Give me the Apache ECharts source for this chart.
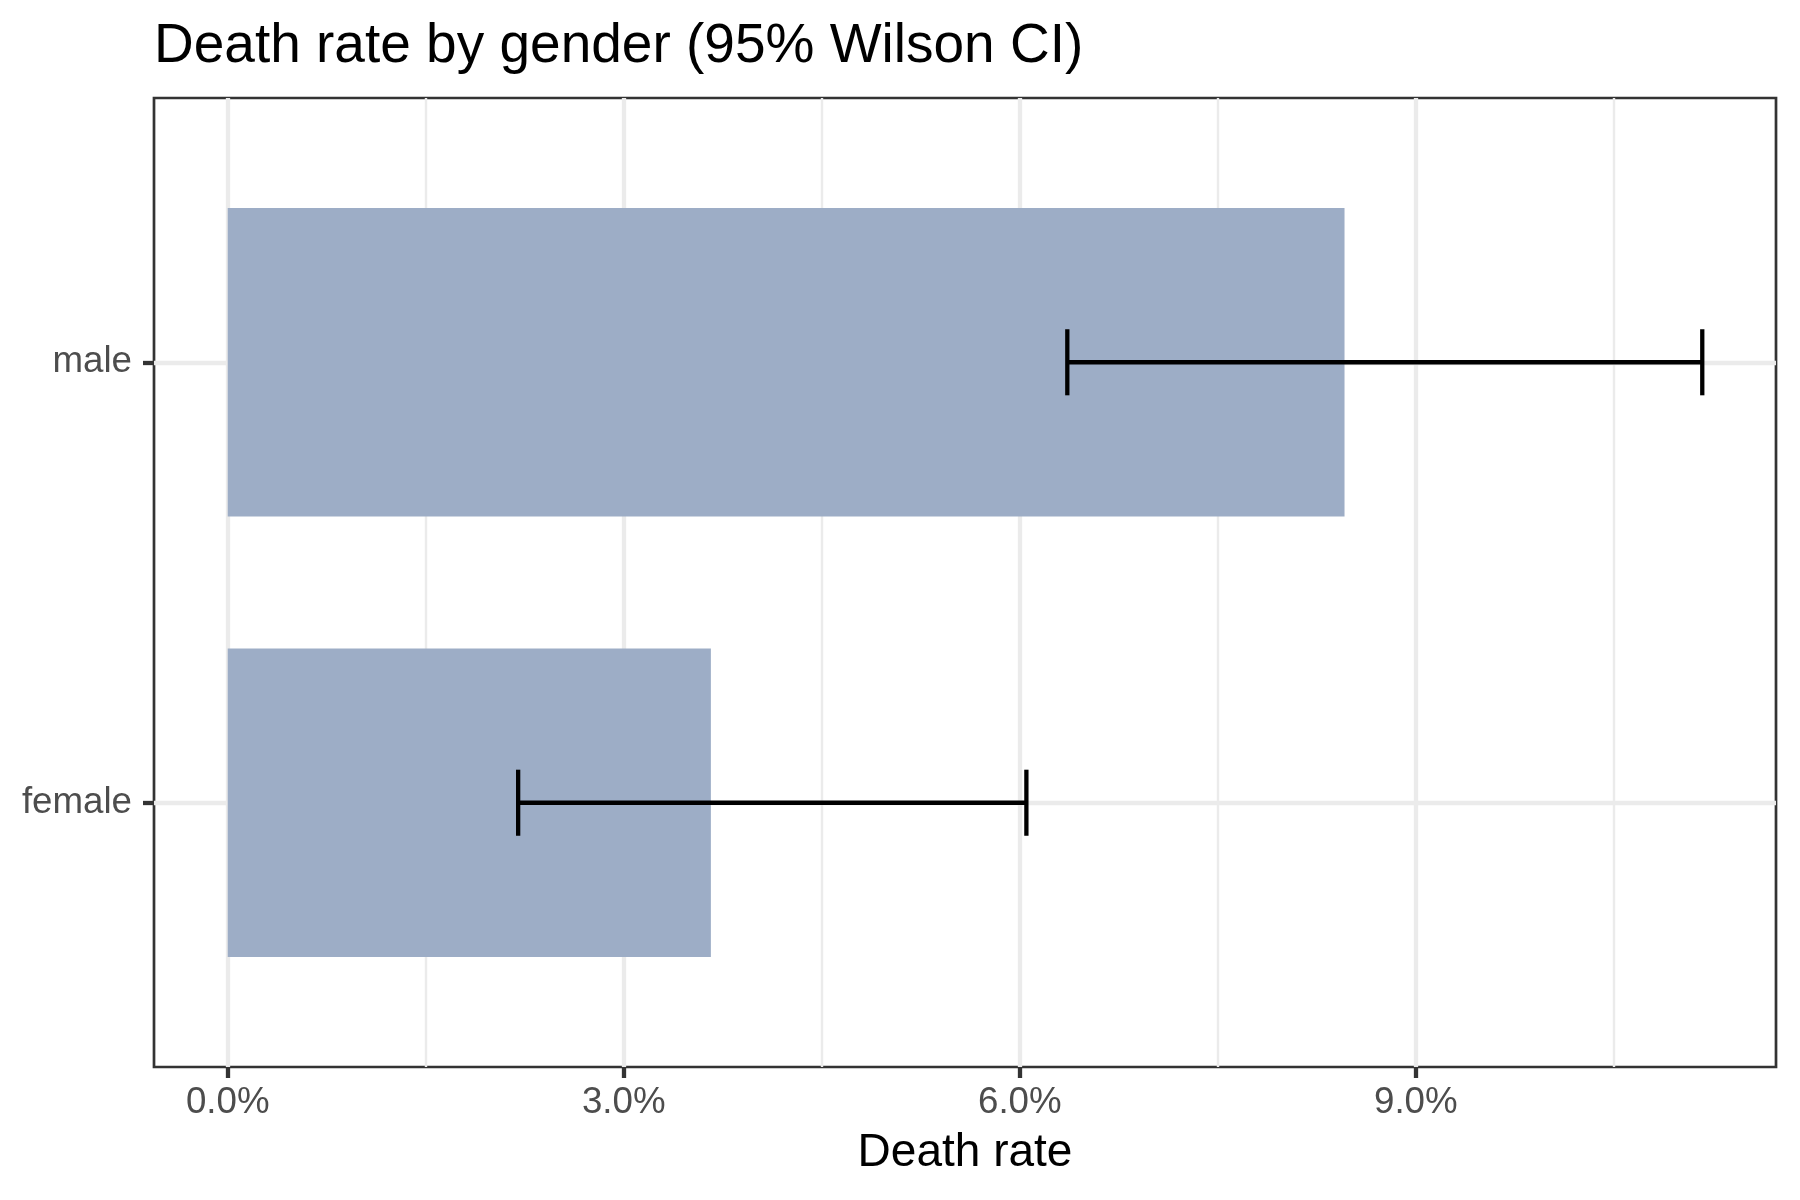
<!DOCTYPE html>
<html>
<head>
    <meta charset="utf-8">
    <title>Death rate by gender</title>
    <script src="https://cdn.jsdelivr.net/npm/echarts@6.0.0/dist/echarts.min.js"></script>
    <style>
        * { margin: 0; padding: 0 }
        #main { width: 1800px; height: 1200px; background: #fff; }
    </style>
</head>
<body>
    <div id="main"></div>
    <script type="text/javascript">
        // data
        var categories = ['female', 'male'];
        var rates = [0.0366, 0.0846];
        var ciLower = [0.0220, 0.0636];
        var ciUpper = [0.0605, 0.1117];
        var xTicks = [0, 0.03, 0.06, 0.09];
        var xMinorTicks = [0.015, 0.045, 0.075, 0.105];

        var FONT = '"Liberation Sans", Arial, Helvetica, sans-serif';

        // ggplot style 5% padding of the value range
        var dataMax = Math.max.apply(null, ciUpper);
        var pad = dataMax * 0.05;
        var xMin = -pad, xMax = dataMax + pad;

        var rows = categories.map(function (c, i) {
            return [i + 1, rates[i], ciLower[i], ciUpper[i]];
        });

        var myChart = echarts.init(document.getElementById('main'));

        var option = {
            backgroundColor: '#fff',
            animation: false,
            title: {
                text: 'Death rate by gender (95% Wilson CI)',
                left: 154,
                top: 19,
                padding: 0,
                textStyle: { fontFamily: FONT, fontSize: 55, fontWeight: 'normal', color: '#000' }
            },
            grid: {
                left: 154, right: 24, top: 98, bottom: 133,
                show: true,
                borderColor: '#333333',
                borderWidth: 2.7,
                outerBoundsMode: 'none'
            },
            xAxis: [{
                type: 'value',
                min: xMin, max: xMax,
                name: 'Death rate',
                nameLocation: 'middle',
                nameGap: 63,
                nameTextStyle: { fontFamily: FONT, fontSize: 46, color: '#000' },
                axisLine: { show: false, onZero: false },
                axisTick: { show: true, length: 11, customValues: xTicks, lineStyle: { color: '#333333', width: 4.3 } },
                axisLabel: {
                    customValues: xTicks,
                    margin: 17,
                    fontFamily: FONT, fontSize: 36.7, color: '#4D4D4D',
                    formatter: function (v) { return (v * 100).toFixed(1) + '%'; }
                },
                splitLine: { show: true, lineStyle: { color: '#EBEBEB', width: 4.3 } }
            }, {
                // minor grid lines
                type: 'value',
                min: xMin, max: xMax,
                position: 'bottom',
                axisLine: { show: false, onZero: false },
                axisTick: { show: false, customValues: xMinorTicks },
                axisLabel: { show: false, customValues: xMinorTicks },
                splitLine: { show: true, lineStyle: { color: '#EBEBEB', width: 2.4 } }
            }],
            yAxis: {
                type: 'value',
                min: 0.4, max: 2.6,
                position: 'left',
                axisLine: { show: false, onZero: false },
                axisTick: { show: true, length: 11, customValues: [1, 2], lineStyle: { color: '#333333', width: 4.3 } },
                axisLabel: {
                    customValues: [1, 2],
                    margin: 22,
                    padding: [7, 0, 0, 0],
                    fontFamily: FONT, fontSize: 36.7, color: '#4D4D4D',
                    formatter: function (v) { return categories[Math.round(v) - 1]; }
                },
                splitLine: { show: true, lineStyle: { color: '#EBEBEB', width: 4.3 } }
            },
            series: [{
                name: 'rate',
                type: 'custom',
                coordinateSystem: 'cartesian2d',
                xAxisIndex: 0, yAxisIndex: 0,
                encode: { x: 1, y: 0 },
                data: rows,
                renderItem: function (params, api) {
                    var y = api.value(0), v = api.value(1);
                    var p0 = api.coord([0, y + 0.35]);
                    var p1 = api.coord([v, y - 0.35]);
                    return {
                        type: 'rect',
                        shape: { x: p0[0], y: p0[1], width: p1[0] - p0[0], height: p1[1] - p0[1] },
                        style: { fill: '#9DADC6' }
                    };
                }
            }, {
                name: 'ci',
                type: 'custom',
                coordinateSystem: 'cartesian2d',
                xAxisIndex: 0, yAxisIndex: 0,
                encode: { x: [2, 3], y: 0 },
                data: rows,
                z: 3,
                renderItem: function (params, api) {
                    var y = api.value(0);
                    var lo = api.coord([api.value(2), y]);
                    var hi = api.coord([api.value(3), y]);
                    var capH = api.size([0, 0.15])[1] / 2;
                    var st = { stroke: '#000', lineWidth: 4.3 };
                    return {
                        type: 'group',
                        children: [
                            { type: 'line', shape: { x1: lo[0], y1: lo[1], x2: hi[0], y2: hi[1] }, style: st },
                            { type: 'line', shape: { x1: lo[0], y1: lo[1] - capH, x2: lo[0], y2: lo[1] + capH }, style: st },
                            { type: 'line', shape: { x1: hi[0], y1: hi[1] - capH, x2: hi[0], y2: hi[1] + capH }, style: st }
                        ]
                    };
                }
            }]
        };

        myChart.setOption(option);
    </script>
</body>
</html>
